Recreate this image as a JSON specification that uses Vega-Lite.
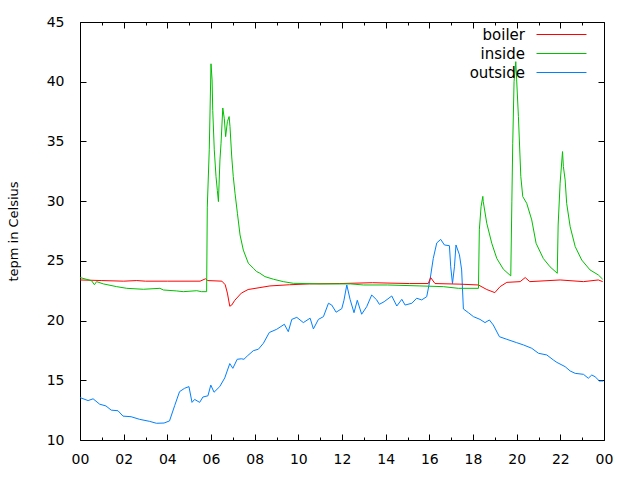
{
  "$schema": "https://vega.github.io/schema/vega-lite/v6.json",
  "width": 524,
  "height": 418,
  "autosize": "none",
  "padding": {"left": 80, "top": 22, "right": 36, "bottom": 40},
  "background": "white",
  "config": {
    "view": {"stroke": "black", "strokeWidth": 1},
    "font": "DejaVu Sans",
    "axis": {"domain": false, "grid": false, "tickColor": "black", "labelColor": "black", "titleColor": "black", "labelFontSize": 14, "titleFontSize": 13, "titleFontWeight": "normal", "labelFont": "DejaVu Sans", "titleFont": "DejaVu Sans"}
  },
  "datasets": {
    "temps": [
      {"s": "outside", "t": 0, "v": 13.55}, {"s": "outside", "t": 0.37, "v": 13.3}, {"s": "outside", "t": 0.6, "v": 13.45}, {"s": "outside", "t": 0.9, "v": 13.0}, {"s": "outside", "t": 1.19, "v": 12.85}, {"s": "outside", "t": 1.43, "v": 12.5}, {"s": "outside", "t": 1.74, "v": 12.45}, {"s": "outside", "t": 1.97, "v": 12.0}, {"s": "outside", "t": 2.34, "v": 11.95}, {"s": "outside", "t": 2.73, "v": 11.73}, {"s": "outside", "t": 3.19, "v": 11.56}, {"s": "outside", "t": 3.5, "v": 11.4}, {"s": "outside", "t": 3.85, "v": 11.42}, {"s": "outside", "t": 4.1, "v": 11.6}, {"s": "outside", "t": 4.34, "v": 12.9}, {"s": "outside", "t": 4.56, "v": 14.05}, {"s": "outside", "t": 4.79, "v": 14.33}, {"s": "outside", "t": 4.99, "v": 14.47}, {"s": "outside", "t": 5.13, "v": 13.15}, {"s": "outside", "t": 5.25, "v": 13.4}, {"s": "outside", "t": 5.48, "v": 13.15}, {"s": "outside", "t": 5.63, "v": 13.6}, {"s": "outside", "t": 5.86, "v": 13.7}, {"s": "outside", "t": 5.99, "v": 14.6}, {"s": "outside", "t": 6.14, "v": 14.0}, {"s": "outside", "t": 6.4, "v": 14.47}, {"s": "outside", "t": 6.63, "v": 15.2}, {"s": "outside", "t": 6.86, "v": 16.4}, {"s": "outside", "t": 7.0, "v": 16.0}, {"s": "outside", "t": 7.2, "v": 16.76}, {"s": "outside", "t": 7.39, "v": 16.8}, {"s": "outside", "t": 7.51, "v": 16.76}, {"s": "outside", "t": 7.66, "v": 17.03}, {"s": "outside", "t": 7.94, "v": 17.48}, {"s": "outside", "t": 8.17, "v": 17.6}, {"s": "outside", "t": 8.4, "v": 18.1}, {"s": "outside", "t": 8.67, "v": 19.0}, {"s": "outside", "t": 9.01, "v": 19.27}, {"s": "outside", "t": 9.36, "v": 19.69}, {"s": "outside", "t": 9.54, "v": 19.07}, {"s": "outside", "t": 9.7, "v": 20.1}, {"s": "outside", "t": 9.93, "v": 20.27}, {"s": "outside", "t": 10.23, "v": 19.83}, {"s": "outside", "t": 10.54, "v": 20.2}, {"s": "outside", "t": 10.69, "v": 19.3}, {"s": "outside", "t": 10.92, "v": 20.1}, {"s": "outside", "t": 11.15, "v": 20.33}, {"s": "outside", "t": 11.38, "v": 21.45}, {"s": "outside", "t": 11.53, "v": 21.3}, {"s": "outside", "t": 11.73, "v": 20.7}, {"s": "outside", "t": 11.99, "v": 21.0}, {"s": "outside", "t": 12.09, "v": 21.7}, {"s": "outside", "t": 12.22, "v": 22.98}, {"s": "outside", "t": 12.37, "v": 21.78}, {"s": "outside", "t": 12.55, "v": 20.66}, {"s": "outside", "t": 12.7, "v": 21.7}, {"s": "outside", "t": 12.9, "v": 20.53}, {"s": "outside", "t": 13.13, "v": 21.16}, {"s": "outside", "t": 13.36, "v": 22.14}, {"s": "outside", "t": 13.59, "v": 21.73}, {"s": "outside", "t": 13.71, "v": 21.36}, {"s": "outside", "t": 13.93, "v": 21.58}, {"s": "outside", "t": 14.28, "v": 22.06}, {"s": "outside", "t": 14.51, "v": 21.22}, {"s": "outside", "t": 14.74, "v": 21.78}, {"s": "outside", "t": 14.89, "v": 21.3}, {"s": "outside", "t": 15.2, "v": 21.45}, {"s": "outside", "t": 15.42, "v": 21.87}, {"s": "outside", "t": 15.65, "v": 21.73}, {"s": "outside", "t": 15.88, "v": 22.0}, {"s": "outside", "t": 16.03, "v": 23.4}, {"s": "outside", "t": 16.18, "v": 25.2}, {"s": "outside", "t": 16.34, "v": 26.5}, {"s": "outside", "t": 16.52, "v": 26.8}, {"s": "outside", "t": 16.69, "v": 26.33}, {"s": "outside", "t": 16.92, "v": 26.27}, {"s": "outside", "t": 16.98, "v": 24.5}, {"s": "outside", "t": 17.06, "v": 23.1}, {"s": "outside", "t": 17.15, "v": 24.5}, {"s": "outside", "t": 17.22, "v": 26.33}, {"s": "outside", "t": 17.38, "v": 25.5}, {"s": "outside", "t": 17.48, "v": 24.24}, {"s": "outside", "t": 17.56, "v": 20.97}, {"s": "outside", "t": 17.79, "v": 20.66}, {"s": "outside", "t": 18.02, "v": 20.33}, {"s": "outside", "t": 18.32, "v": 20.1}, {"s": "outside", "t": 18.55, "v": 19.83}, {"s": "outside", "t": 18.75, "v": 20.05}, {"s": "outside", "t": 18.93, "v": 19.63}, {"s": "outside", "t": 19.21, "v": 18.65}, {"s": "outside", "t": 19.55, "v": 18.43}, {"s": "outside", "t": 20.0, "v": 18.15}, {"s": "outside", "t": 20.31, "v": 17.96}, {"s": "outside", "t": 20.69, "v": 17.68}, {"s": "outside", "t": 21.0, "v": 17.26}, {"s": "outside", "t": 21.38, "v": 17.12}, {"s": "outside", "t": 21.68, "v": 16.7}, {"s": "outside", "t": 21.84, "v": 16.5}, {"s": "outside", "t": 22.22, "v": 16.14}, {"s": "outside", "t": 22.45, "v": 15.78}, {"s": "outside", "t": 22.68, "v": 15.58}, {"s": "outside", "t": 23.06, "v": 15.5}, {"s": "outside", "t": 23.28, "v": 15.17}, {"s": "outside", "t": 23.44, "v": 15.44}, {"s": "outside", "t": 23.59, "v": 15.3}, {"s": "outside", "t": 23.79, "v": 14.94}, {"s": "outside", "t": 23.97, "v": 14.94},

      {"s": "boiler", "t": 0, "v": 23.4}, {"s": "boiler", "t": 1.0, "v": 23.35}, {"s": "boiler", "t": 2.0, "v": 23.3}, {"s": "boiler", "t": 2.6, "v": 23.35}, {"s": "boiler", "t": 3.0, "v": 23.3}, {"s": "boiler", "t": 4.0, "v": 23.3}, {"s": "boiler", "t": 5.5, "v": 23.3}, {"s": "boiler", "t": 5.75, "v": 23.5}, {"s": "boiler", "t": 5.85, "v": 23.35}, {"s": "boiler", "t": 6.5, "v": 23.3}, {"s": "boiler", "t": 6.65, "v": 23.0}, {"s": "boiler", "t": 6.75, "v": 22.3}, {"s": "boiler", "t": 6.86, "v": 21.2}, {"s": "boiler", "t": 6.95, "v": 21.3}, {"s": "boiler", "t": 7.09, "v": 21.7}, {"s": "boiler", "t": 7.39, "v": 22.3}, {"s": "boiler", "t": 7.7, "v": 22.6}, {"s": "boiler", "t": 8.2, "v": 22.75}, {"s": "boiler", "t": 8.7, "v": 22.9}, {"s": "boiler", "t": 9.6, "v": 23.0}, {"s": "boiler", "t": 10.5, "v": 23.07}, {"s": "boiler", "t": 11.9, "v": 23.1}, {"s": "boiler", "t": 13.4, "v": 23.17}, {"s": "boiler", "t": 15.1, "v": 23.1}, {"s": "boiler", "t": 15.95, "v": 23.1}, {"s": "boiler", "t": 16.06, "v": 23.6}, {"s": "boiler", "t": 16.26, "v": 23.1}, {"s": "boiler", "t": 17.4, "v": 23.05}, {"s": "boiler", "t": 18.25, "v": 22.98}, {"s": "boiler", "t": 18.63, "v": 22.6}, {"s": "boiler", "t": 19.0, "v": 22.34}, {"s": "boiler", "t": 19.24, "v": 22.84}, {"s": "boiler", "t": 19.55, "v": 23.2}, {"s": "boiler", "t": 20.16, "v": 23.26}, {"s": "boiler", "t": 20.39, "v": 23.6}, {"s": "boiler", "t": 20.6, "v": 23.26}, {"s": "boiler", "t": 21.99, "v": 23.4}, {"s": "boiler", "t": 23.06, "v": 23.26}, {"s": "boiler", "t": 23.74, "v": 23.4}, {"s": "boiler", "t": 23.94, "v": 23.26},

      {"s": "inside", "t": 0, "v": 23.6}, {"s": "inside", "t": 0.53, "v": 23.34}, {"s": "inside", "t": 0.66, "v": 23.0}, {"s": "inside", "t": 0.76, "v": 23.26}, {"s": "inside", "t": 1.07, "v": 23.07}, {"s": "inside", "t": 1.68, "v": 22.84}, {"s": "inside", "t": 2.14, "v": 22.7}, {"s": "inside", "t": 2.9, "v": 22.62}, {"s": "inside", "t": 3.66, "v": 22.7}, {"s": "inside", "t": 3.82, "v": 22.56}, {"s": "inside", "t": 4.43, "v": 22.48}, {"s": "inside", "t": 4.73, "v": 22.42}, {"s": "inside", "t": 5.35, "v": 22.5}, {"s": "inside", "t": 5.57, "v": 22.42}, {"s": "inside", "t": 5.8, "v": 22.42}, {"s": "inside", "t": 5.83, "v": 29.5}, {"s": "inside", "t": 5.92, "v": 34.3}, {"s": "inside", "t": 6.0, "v": 41.5}, {"s": "inside", "t": 6.05, "v": 40.15}, {"s": "inside", "t": 6.08, "v": 37.6}, {"s": "inside", "t": 6.15, "v": 34.3}, {"s": "inside", "t": 6.23, "v": 32.05}, {"s": "inside", "t": 6.29, "v": 30.9}, {"s": "inside", "t": 6.34, "v": 29.96}, {"s": "inside", "t": 6.41, "v": 33.45}, {"s": "inside", "t": 6.46, "v": 34.85}, {"s": "inside", "t": 6.54, "v": 37.8}, {"s": "inside", "t": 6.61, "v": 36.9}, {"s": "inside", "t": 6.67, "v": 35.4}, {"s": "inside", "t": 6.75, "v": 36.66}, {"s": "inside", "t": 6.83, "v": 37.08}, {"s": "inside", "t": 6.87, "v": 36.24}, {"s": "inside", "t": 6.95, "v": 33.7}, {"s": "inside", "t": 7.02, "v": 32.05}, {"s": "inside", "t": 7.1, "v": 30.66}, {"s": "inside", "t": 7.21, "v": 28.98}, {"s": "inside", "t": 7.33, "v": 27.17}, {"s": "inside", "t": 7.48, "v": 25.9}, {"s": "inside", "t": 7.71, "v": 24.8}, {"s": "inside", "t": 7.94, "v": 24.38}, {"s": "inside", "t": 8.09, "v": 24.1}, {"s": "inside", "t": 8.21, "v": 24.0}, {"s": "inside", "t": 8.47, "v": 23.68}, {"s": "inside", "t": 8.86, "v": 23.46}, {"s": "inside", "t": 9.31, "v": 23.26}, {"s": "inside", "t": 9.77, "v": 23.12}, {"s": "inside", "t": 10.99, "v": 23.07}, {"s": "inside", "t": 12.4, "v": 23.07}, {"s": "inside", "t": 12.98, "v": 22.98}, {"s": "inside", "t": 14.08, "v": 22.98}, {"s": "inside", "t": 15.57, "v": 22.9}, {"s": "inside", "t": 16.64, "v": 22.84}, {"s": "inside", "t": 17.33, "v": 22.7}, {"s": "inside", "t": 18.25, "v": 22.7}, {"s": "inside", "t": 18.29, "v": 27.6}, {"s": "inside", "t": 18.37, "v": 29.54}, {"s": "inside", "t": 18.45, "v": 30.4}, {"s": "inside", "t": 18.47, "v": 29.96}, {"s": "inside", "t": 18.63, "v": 28.15}, {"s": "inside", "t": 18.86, "v": 26.47}, {"s": "inside", "t": 19.09, "v": 25.2}, {"s": "inside", "t": 19.39, "v": 24.3}, {"s": "inside", "t": 19.73, "v": 23.74}, {"s": "inside", "t": 19.78, "v": 30.0}, {"s": "inside", "t": 19.82, "v": 34.85}, {"s": "inside", "t": 19.88, "v": 40.0}, {"s": "inside", "t": 19.96, "v": 41.68}, {"s": "inside", "t": 20.0, "v": 40.15}, {"s": "inside", "t": 20.08, "v": 37.08}, {"s": "inside", "t": 20.19, "v": 32.05}, {"s": "inside", "t": 20.28, "v": 30.38}, {"s": "inside", "t": 20.46, "v": 29.82}, {"s": "inside", "t": 20.69, "v": 28.43}, {"s": "inside", "t": 20.89, "v": 26.47}, {"s": "inside", "t": 21.22, "v": 25.2}, {"s": "inside", "t": 21.53, "v": 24.5}, {"s": "inside", "t": 21.86, "v": 23.96}, {"s": "inside", "t": 21.9, "v": 28.0}, {"s": "inside", "t": 21.99, "v": 31.5}, {"s": "inside", "t": 22.1, "v": 34.15}, {"s": "inside", "t": 22.14, "v": 32.9}, {"s": "inside", "t": 22.22, "v": 31.78}, {"s": "inside", "t": 22.29, "v": 29.82}, {"s": "inside", "t": 22.45, "v": 27.86}, {"s": "inside", "t": 22.68, "v": 26.2}, {"s": "inside", "t": 22.98, "v": 25.07}, {"s": "inside", "t": 23.36, "v": 24.24}, {"s": "inside", "t": 23.74, "v": 23.82}, {"s": "inside", "t": 23.94, "v": 23.46}
    ]
  },
  "data": {"name": "temps"},
  "layer": [
    {
      "mark": {"type": "line", "strokeWidth": 1, "interpolate": "linear"},
      "encoding": {
        "x": {
          "field": "t", "type": "quantitative",
          "scale": {"domain": [0, 24], "nice": false, "zero": false},
          "axis": {
            "orient": "bottom", "title": null,
            "values": [0,1,2,3,4,5,6,7,8,9,10,11,12,13,14,15,16,17,18,19,20,21,22,23,24],
            "labelExpr": "datum.value % 2 == 0 ? (((datum.value % 24) < 10 ? '0' : '') + (datum.value % 24)) : ''",
            "tickSize": {"condition": {"test": "datum.value % 2 == 1", "value": -3}, "value": -6},
            "labelPadding": 18,
            "labelFlush": false,
            "labelOverlap": false
          }
        },
        "y": {
          "field": "v", "type": "quantitative",
          "scale": {"domain": [10, 45], "nice": false, "zero": false},
          "axis": {
            "orient": "left", "title": "tepm in Celsius",
            "values": [10,15,20,25,30,35,40,45],
            "tickSize": -6,
            "labelPadding": 22,
            "titlePadding": 26,
            "labelFlush": false,
            "labelOverlap": false
          }
        },
        "color": {
          "field": "s", "type": "nominal",
          "scale": {"domain": ["boiler", "inside", "outside"], "range": ["#ff0000", "#00c000", "#0080ff"]},
          "legend": {
            "orient": "none", "legendX": 474, "legendY": 5, "title": null, "padding": 0,
            "symbolType": "M-4,0H4", "symbolSize": 156, "symbolStrokeWidth": 1,
            "labelAlign": "right", "labelOffset": -44, "labelFontSize": 15,
            "labelFont": "DejaVu Sans", "labelColor": "black", "rowPadding": 3
          }
        }
      }
    },
    {
      "mark": {"type": "line", "opacity": 0},
      "encoding": {
        "x": {
          "field": "t", "type": "quantitative",
          "axis": {
            "orient": "top", "title": null, "labels": false,
            "values": [0,1,2,3,4,5,6,7,8,9,10,11,12,13,14,15,16,17,18,19,20,21,22,23,24],
            "tickSize": {"condition": {"test": "datum.value % 2 == 1", "value": -3}, "value": -6}
          }
        },
        "y": {
          "field": "v", "type": "quantitative",
          "axis": {
            "orient": "right", "title": null, "labels": false,
            "values": [10,15,20,25,30,35,40,45],
            "tickSize": -6
          }
        },
        "detail": {"field": "s"}
      }
    }
  ],
  "resolve": {"axis": {"x": "independent", "y": "independent"}}
}
